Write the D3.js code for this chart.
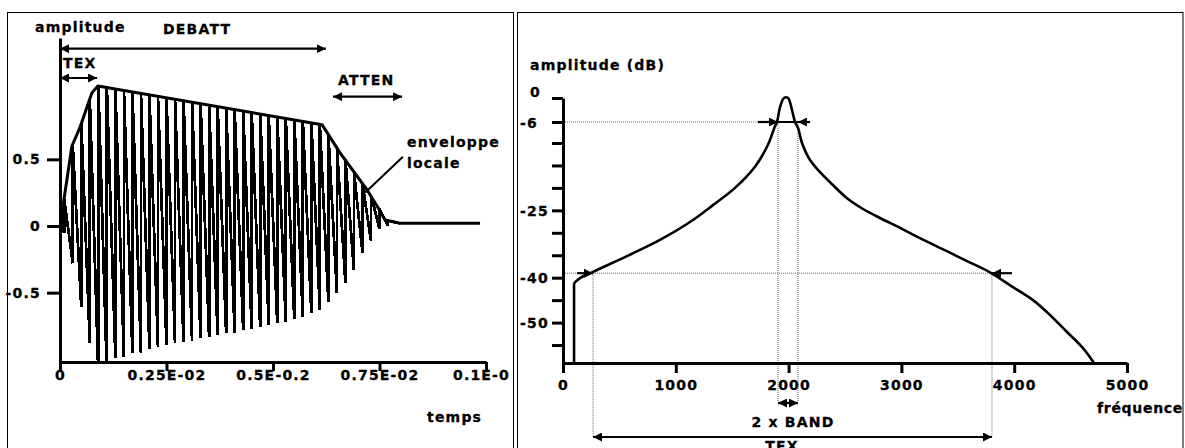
<!DOCTYPE html>
<html>
<head>
<meta charset="utf-8">
<script src="https://cdn.jsdelivr.net/npm/d3@7"></script>
<style>
  html, body { margin: 0; padding: 0; background: #fff; }
  svg { display: block; }
  text { font-family: "DejaVu Sans", sans-serif; font-weight: bold; font-size: 14px; letter-spacing: 1.2px; fill: #000; stroke: #000; stroke-width: 0.3px; }
</style>
</head>
<body>
<svg id="chart" width="1185" height="448"></svg>
<script>
// ---- left panel : FOF waveform (seconds / amplitude) ----
const timeTicks = [0, 0.0025, 0.005, 0.0075, 0.01];
const timeTickLabels = ["0", "0.25E-02", "0.5E-0.2", "0.75E-02", "0.1E-0"];
const ampTicks = [0.5, 0, -0.5];
const ampTickLabels = ["0.5", "0", "-0.5"];

// local envelope
const envTimes = [0, 0.00004, 0.00008, 0.00028, 0.00047, 0.00075, 0.00089, 0.00615, 0.00657, 0.00721, 0.00746, 0.00763, 0.00798, 0.00986];
const envAmps  = [0, 0, 0.17, 0.60, 0.74, 1.00, 1.05, 0.76, 0.55, 0.27, 0.14, 0.045, 0.02, 0.02];

// one peak / trough per period
const waveTimes = [0.0001, 0.0003, 0.0005, 0.0007, 0.0009, 0.0011, 0.0013, 0.0015, 0.0017, 0.0019,
  0.0021, 0.0023, 0.0025, 0.0027, 0.0029, 0.0031, 0.0033, 0.0035, 0.0037, 0.0039,
  0.0041, 0.0043, 0.0045, 0.0047, 0.0049, 0.0051, 0.0053, 0.0055, 0.0057, 0.0059,
  0.0061, 0.0063, 0.0065, 0.0067, 0.0069, 0.0071, 0.0073, 0.0075, 0.0077];
const wavePeaks = [0.20, 0.60, 0.77, 0.95, 1.05, 1.04, 1.03, 1.02, 1.01, 1.00,
  0.98, 0.97, 0.96, 0.95, 0.94, 0.93, 0.92, 0.91, 0.90, 0.89,
  0.87, 0.86, 0.85, 0.84, 0.83, 0.82, 0.81, 0.80, 0.79, 0.78,
  0.76, 0.69, 0.59, 0.50, 0.41, 0.32, 0.23, 0.13, 0.04];
const waveTroughs = [-0.05, -0.28, -0.61, -0.88, -1.10, -1.10, -0.99, -0.98, -0.95, -0.95,
  -0.92, -0.91, -0.89, -0.88, -0.87, -0.86, -0.84, -0.83, -0.82, -0.80,
  -0.80, -0.78, -0.77, -0.76, -0.74, -0.73, -0.72, -0.70, -0.68, -0.65,
  -0.63, -0.57, -0.50, -0.43, -0.33, -0.20, -0.11, -0.02, 0.00];

const debattSpan = [0, 0.00624];
const texSpan = [0, 0.00087];
const attenSpan = [0.00641, 0.00803];

// ---- right panel : spectrum (Hz / dB) ----
const freqTicks = [0, 1000, 2000, 3000, 4000, 5000];
const dbTicks = [0, -6, -10, -15, -20, -25, -30, -35, -40, -45, -50, -55];
const dbTickLabels = ["0", "-6", "", "", "", "-25", "", "", "-40", "", "-50", ""];

const specFreq = [98, 98, 151, 266, 567, 860, 1126, 1321, 1525, 1702, 1817, 1879, 1897, 1924, 1959, 1995,
  2030, 2057, 2083, 2119, 2190, 2279, 2394, 2518, 2660, 2810, 2988, 3165, 3404, 3582, 3785, 3989,
  4167, 4317, 4468, 4610, 4707];
const specDb = [-59, -41.2, -40.1, -38.7, -35.2, -31.6, -27.6, -24.0, -20.0, -15.3, -10.4, -6.8, -6.0, -2.3, 0, 0,
  -3.0, -6.0, -7.1, -10.0, -13.8, -16.5, -19.4, -22.3, -24.7, -26.7, -28.9, -31.2, -34.1, -36.3, -38.8, -42.1,
  -45.0, -48.3, -52.1, -55.7, -59];

const bandLevelDb = -6;
const bandEdges = [1906, 2083];
const bandArrowsFrom = [1729, 2190];
const tevLevelDb = -39;
const tevEdges = [266, 3803];
const tevArrowsFrom = [124, 3980];

const svg = d3.select("#chart");

// arrow heads
svg.append("defs").append("marker")
  .attr("id", "head")
  .attr("viewBox", "0 0 10 10")
  .attr("refX", 10).attr("refY", 5)
  .attr("markerWidth", 9).attr("markerHeight", 9)
  .attr("markerUnits", "userSpaceOnUse")
  .attr("orient", "auto-start-reverse")
  .append("path").attr("d", "M0,0L10,5L0,10Z").attr("fill", "#000");

// panel frames
svg.append("rect").attr("x", 7.5).attr("y", 12.5).attr("width", 506).attr("height", 460)
  .attr("fill", "none").attr("stroke", "#000");
svg.append("rect").attr("x", 517.5).attr("y", 12.5).attr("width", 665.5).attr("height", 460)
  .attr("fill", "none").attr("stroke", "#000");

function styleAxis(g) {
  g.select(".domain").attr("stroke-width", 3);
  g.selectAll(".tick line").attr("stroke-width", 3);
}

function arrow(g, x1, y1, x2, y2, both) {
  const l = g.append("line")
    .attr("x1", x1).attr("y1", y1).attr("x2", x2).attr("y2", y2)
    .attr("stroke", "#000").attr("stroke-width", 2.2)
    .attr("marker-end", "url(#head)");
  if (both) l.attr("marker-start", "url(#head)");
}

function dotted(g, x1, y1, x2, y2) {
  g.append("line")
    .attr("x1", x1).attr("y1", y1).attr("x2", x2).attr("y2", y2)
    .attr("stroke", "#666").attr("stroke-width", 1)
    .attr("stroke-dasharray", "1,1");
}

// ================= left panel =================
const xL = d3.scaleLinear([0, 0.01], [60, 486]);
const yL = d3.scaleLinear([-1.02, 1.41], [362, 38]);
const left = svg.append("g");

left.append("clipPath").attr("id", "clipL")
  .append("rect").attr("x", xL(0)).attr("y", yL(1.41)).attr("width", xL(0.01) - xL(0)).attr("height", yL(-1.02) - yL(1.41));

// waveform
const wavePts = [[0, 0]];
waveTimes.forEach((t, i) => {
  wavePts.push([t, waveTroughs[i]]);
  wavePts.push([t, wavePeaks[i]]);
});
wavePts.push([envTimes[12], envAmps[12]]);

left.append("path")
  .attr("clip-path", "url(#clipL)")
  .attr("d", d3.line().x(d => xL(d[0])).y(d => yL(d[1]))(wavePts))
  .attr("fill", "none").attr("stroke", "#000").attr("stroke-width", 2.8)
  .attr("stroke-linejoin", "bevel")
  .attr("shape-rendering", "crispEdges");

// envelope
left.append("path")
  .attr("d", d3.line().x((d, i) => xL(envTimes[i])).y((d, i) => yL(envAmps[i]))(envTimes))
  .attr("fill", "none").attr("stroke", "#000").attr("stroke-width", 3)
  .attr("stroke-linejoin", "round");

// axes
left.append("g")
  .attr("transform", `translate(0,${yL(-1.02)})`)
  .call(d3.axisBottom(xL).tickValues(timeTicks).tickFormat((d, i) => timeTickLabels[i])
    .tickSize(9).tickSizeOuter(0))
  .call(styleAxis)
  .call(g => g.selectAll(".tick text").attr("y", 18).attr("dy", null)
    .attr("dx", (d, i) => i === timeTicks.length - 1 ? -5 : 0));

left.append("g")
  .attr("transform", `translate(${xL(0)},0)`)
  .call(d3.axisLeft(yL).tickValues(ampTicks).tickFormat((d, i) => ampTickLabels[i])
    .tickSize(13).tickSizeOuter(0).tickPadding(6))
  .call(styleAxis);

// annotations
arrow(left, xL(debattSpan[0]), yL(1.33), xL(debattSpan[1]), yL(1.33), true);
arrow(left, xL(texSpan[0]), yL(1.11), xL(texSpan[1]), yL(1.11), true);
arrow(left, xL(attenSpan[0]), yL(0.97), xL(attenSpan[1]), yL(0.97), true);
left.append("line")
  .attr("x1", xL(0.00805)).attr("y1", yL(0.52))
  .attr("x2", xL(0.00716)).attr("y2", yL(0.25))
  .attr("stroke", "#000").attr("stroke-width", 2);

left.append("text").attr("x", 35).attr("y", 32).text("amplitude");
left.append("text").attr("x", 163).attr("y", 34).text("DEBATT");
left.append("text").attr("x", 63).attr("y", 68).text("TEX");
left.append("text").attr("x", 338).attr("y", 85).text("ATTEN");
left.append("text").attr("x", 407).attr("y", 147).text("enveloppe");
left.append("text").attr("x", 407).attr("y", 168).text("locale");
left.append("text").attr("x", 427).attr("y", 422).text("temps");

// ================= right panel =================
const xR = d3.scaleLinear([0, 5000], [563, 1127]);
const yR = d3.scaleLinear([0, -6, -10, -59], [98, 122, 143, 363]);
const right = svg.append("g");
const base = yR(-59);

// guide lines
dotted(right, xR(0), yR(bandLevelDb), xR(bandArrowsFrom[0]), yR(bandLevelDb));
dotted(right, xR(0), yR(tevLevelDb), xR(tevEdges[1]), yR(tevLevelDb));
bandEdges.forEach(f => dotted(right, xR(f), yR(bandLevelDb), xR(f), base + 38));
tevEdges.forEach(f => dotted(right, xR(f), yR(tevLevelDb), xR(f), base + 74));

// spectrum: vertical foot, then the smooth curve
const specLine = d3.line().x((d, i) => xR(specFreq[i])).y((d, i) => yR(specDb[i]));
right.append("path")
  .attr("d", specLine(specFreq.slice(0, 2)))
  .attr("fill", "none").attr("stroke", "#000").attr("stroke-width", 2.6);
right.append("path")
  .attr("d", d3.line().curve(d3.curveCatmullRom.alpha(0.5))
    .x(d => xR(specFreq[d])).y(d => yR(specDb[d]))(d3.range(1, specFreq.length)))
  .attr("fill", "none").attr("stroke", "#000").attr("stroke-width", 2.6)
  .attr("stroke-linejoin", "round");

// axes
right.append("g")
  .attr("transform", `translate(0,${base})`)
  .call(d3.axisBottom(xR).tickValues(freqTicks).tickFormat(d3.format("d"))
    .tickSize(10).tickSizeOuter(0))
  .call(styleAxis)
  .call(g => g.selectAll(".tick text").attr("y", 27).attr("dy", null));

right.append("g")
  .attr("transform", `translate(${xR(0)},0)`)
  .call(d3.axisLeft(yR).tickValues(dbTicks).tickFormat((d, i) => dbTickLabels[i])
    .tickSize(11).tickSizeOuter(0))
  .call(styleAxis)
  .call(g => g.selectAll(".tick text")
    .attr("text-anchor", "start")
    .attr("x", (d, i) => dbTickLabels[i].startsWith("-") ? -43 : -33)
    .attr("dy", (d, i) => i === 0 ? "-0.1em" : "0.36em"));

// band / TEX arrows
right.append("line")
  .attr("x1", xR(bandArrowsFrom[0])).attr("y1", yR(bandLevelDb))
  .attr("x2", xR(bandArrowsFrom[1])).attr("y2", yR(bandLevelDb))
  .attr("stroke", "#000").attr("stroke-width", 2.2);
arrow(right, xR(bandArrowsFrom[0]), yR(bandLevelDb), xR(bandEdges[0]), yR(bandLevelDb), false);
arrow(right, xR(bandArrowsFrom[1]), yR(bandLevelDb), xR(bandEdges[1]), yR(bandLevelDb), false);
arrow(right, xR(tevArrowsFrom[0]), yR(tevLevelDb), xR(tevEdges[0]), yR(tevLevelDb), false);
arrow(right, xR(tevArrowsFrom[1]), yR(tevLevelDb), xR(tevEdges[1]), yR(tevLevelDb), false);
arrow(right, xR(bandEdges[0]), base + 40, xR(bandEdges[1]), base + 40, true);
arrow(right, xR(tevEdges[0]), base + 74, xR(tevEdges[1]), base + 74, true);

right.append("text").attr("x", 530).attr("y", 70).text("amplitude (dB)");
right.append("text").attr("x", 1097).attr("y", 413).style("letter-spacing", "0.7px").text("fréquence");
right.append("text").attr("x", 793).attr("y", 427).attr("text-anchor", "middle").text("2 x BAND");
right.append("text").attr("x", 782).attr("y", 451).attr("text-anchor", "middle").text("TEX");
</script>
</body>
</html>
